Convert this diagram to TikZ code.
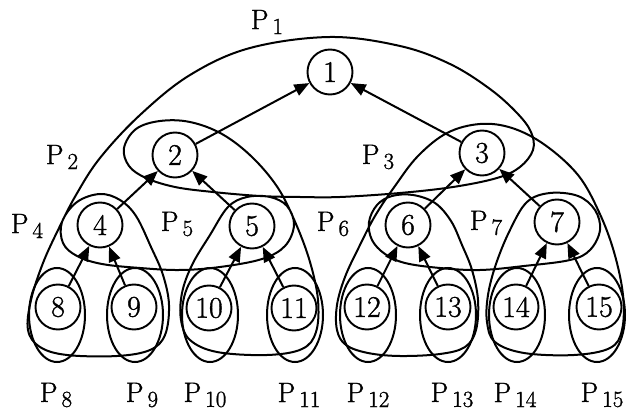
\documentclass[tikz,border=0pt]{standalone}
\usepackage{fontspec}
\newfontfamily\heavy{Latin Modern Roman}[FakeBold=1.2]
\usetikzlibrary{arrows.meta}
\newcommand{\plab}[1]{\heavy\fontsize{28}{28}\selectfont P\kern4pt\raisebox{-5pt}{\fontsize{23}{23}\selectfont #1}}
\begin{document}
\begin{tikzpicture}[x=1pt,y=-1pt,
  vtx/.style={circle,draw,fill=white,line width=1.9pt,minimum size=45pt,inner sep=0pt,font=\heavy\fontsize{30}{30}\selectfont},
  arr/.style={line width=2pt,-{Triangle[length=15pt,width=12pt]}},
  curve/.style={line width=2pt},
  plabel/.style={inner sep=0pt}]
\useasboundingbox (0,0) rectangle (627,414);

% left closed curve: P1 dome, P4, P5, P2, loops of 2,3,4,5
\draw[curve] plot[smooth cycle,tension=0.6] coordinates {
 (330,37) (250,48) (190,75) (140,115) (100,158) (76,195) (59,228) (43,263) (31,300) (28,330) (40,347) (67,355) (117,356) (150,350) (165,335) (169,305) (163,275) (151,247) (136,216) (120,200) (100,194) (77,202) (62,222) (63,243) (77,256) (102,264) (140,268) (180,270) (220,267) (262,259) (285,246) (294,225) (287,206) (270,197) (247,197) (228,207) (210,235) (192,265) (182,293) (181,320) (190,340) (217,352) (267,355) (302,349) (316,332) (318,300) (310,262) (296,224) (278,188) (252,157) (222,134) (190,122) (160,121) (136,129) (124,148) (129,166) (146,178) (175,187) (213,192) (260,196) (300,197) (340,197) (400,193) (453,187) (497,178) (520,167) (533,150) (531,132) (517,113) (490,89) (450,64) (400,46)
};

% right closed curve: P3 dome, P6, P7, loops of 6,7
\draw[curve] plot[smooth cycle,tension=0.6] coordinates {
 (480,124) (447,133) (418,156) (395,186) (375,216) (359,247) (345,277) (337,305) (337,330) (346,345) (368,353) (400,356) (440,354) (465,347) (476,330) (478,300) (472,270) (462,245) (451,221) (435,203) (413,195) (392,196) (377,205) (369,222) (372,240) (385,254) (405,263) (440,268) (480,270) (524,266) (570,260) (590,250) (600,230) (595,210) (578,196) (550,193) (527,202) (510,230) (496,264) (488,295) (487,322) (495,342) (524,353) (574,355) (610,348) (622,330) (623,295) (614,252) (599,212) (578,175) (545,145) (512,128)
};

% leaf ellipses
\foreach \x in {57,135,210,295,368,448,517,597}
  \draw[curve] (\x,315) ellipse [x radius=28pt, y radius=47pt];

% nodes
\node[vtx] (n1) at (330,72) {1};
\node[vtx] (n2) at (175,155) {2};
\node[vtx] (n3) at (482,153) {3};
\node[vtx] (n4) at (100,225) {4};
\node[vtx] (n5) at (252,226) {5};
\node[vtx] (n6) at (408,225) {6};
\node[vtx] (n7) at (557,222) {7};
\node[vtx] (n8) at (58,307) {8};
\node[vtx] (n9) at (134,307) {9};
\node[vtx] (n10) at (209,308) {10};
\node[vtx] (n11) at (294,308) {11};
\node[vtx] (n12) at (367,307) {12};
\node[vtx] (n13) at (448,307) {13};
\node[vtx] (n14) at (516,307) {14};
\node[vtx] (n15) at (599,307) {15};

% edges
\draw[arr] (n2) -- (n1);
\draw[arr] (n3) -- (n1);
\draw[arr] (n4) -- (n2);
\draw[arr] (n5) -- (n2);
\draw[arr] (n6) -- (n3);
\draw[arr] (n7) -- (n3);
\draw[arr] (n8) -- (n4);
\draw[arr] (n9) -- (n4);
\draw[arr] (n10) -- (n5);
\draw[arr] (n11) -- (n5);
\draw[arr] (n12) -- (n6);
\draw[arr] (n13) -- (n6);
\draw[arr] (n14) -- (n7);
\draw[arr] (n15) -- (n7);

% labels
\node[plabel] (p1) at (267,22) {\plab{1}};
\node[plabel] (p2) at (62,157) {\plab{2}};
\node[plabel] (p3) at (378,157) {\plab{3}};
\node[plabel] (p4) at (27,226) {\plab{4}};
\node[plabel] (p5) at (177,224) {\plab{5}};
\node[plabel] (p6) at (333,224) {\plab{6}};
\node[plabel] (p7) at (486,223) {\plab{7}};
\node[plabel] (p8) at (56,395) {\plab{8}};
\node[plabel] (p9) at (142,395) {\plab{9}};
\node[plabel] (p10) at (205,395) {\plab{10}};
\node[plabel] (p11) at (299,395) {\plab{11}};
\node[plabel] (p12) at (368,395) {\plab{12}};
\node[plabel] (p13) at (452,395) {\plab{13}};
\node[plabel] (p14) at (515,395) {\plab{14}};
\node[plabel] (p15) at (602,395) {\plab{15}};
\end{tikzpicture}
\end{document}
